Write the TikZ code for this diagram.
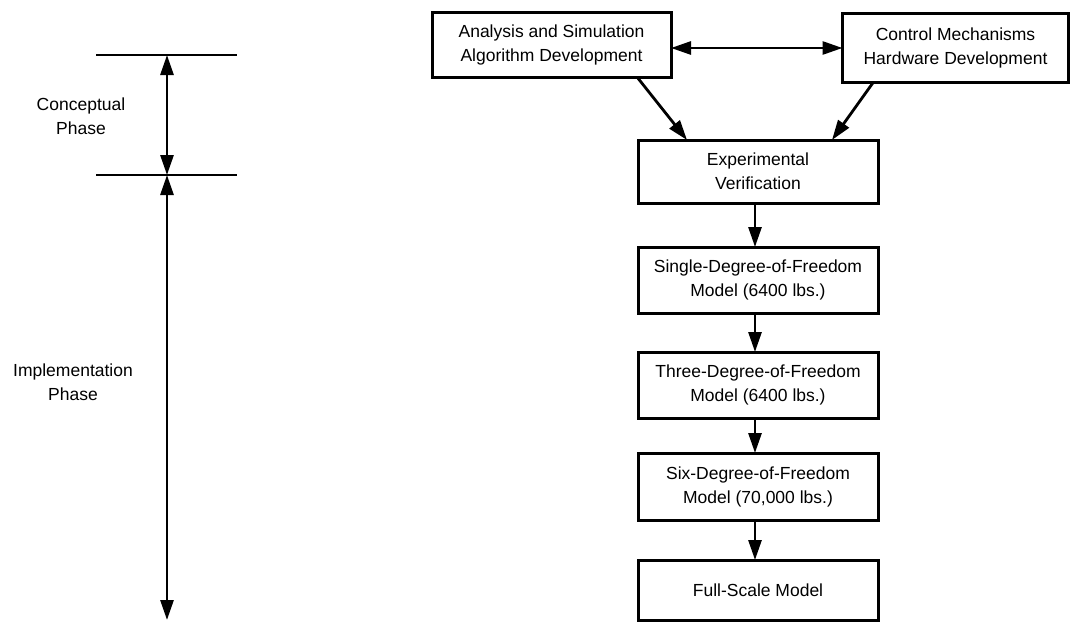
\documentclass[tikz,border=0pt]{standalone}
\usepackage{fontspec}
\setmainfont{Liberation Sans}
\usetikzlibrary{arrows.meta}
\tikzset{
  box/.style={draw, line width=3pt, inner sep=0pt, outer sep=0pt, align=center,
    font=\fontsize{17.5}{24}\selectfont},
  lbl/.style={align=center, font=\fontsize{17.5}{24}\selectfont},
  arr/.style={line width=2.8pt, -{Triangle[length=20pt,width=13pt]}},
  darr/.style={line width=2.8pt, {Triangle[length=20pt,width=13pt]}-{Triangle[length=20pt,width=13pt]}},
  rule/.style={line width=2.8pt}
}
\begin{document}
\begin{tikzpicture}[x=1pt,y=-1pt]
\useasboundingbox (0,0) rectangle (1071,624);
% top boxes
\node[box, minimum width=239pt, minimum height=65pt] (a1) at (551.5,44.5) {Analysis and Simulation\\Algorithm Development};
\node[box, minimum width=226pt, minimum height=69pt] (a2) at (955.5,47.5) {Control Mechanisms\\Hardware Development};
% chain
\node[box, minimum width=240pt, minimum height=63pt] (ev) at (758,171.5) {Experimental\\Verification};
\node[box, minimum width=240pt, minimum height=66pt] (s1) at (758,280) {Single-Degree-of-Freedom\\Model (6400 lbs.)};
\node[box, minimum width=240pt, minimum height=66pt] (s3) at (758,385) {Three-Degree-of-Freedom\\Model (6400 lbs.)};
\node[box, minimum width=240pt, minimum height=67pt] (s6) at (758,486.5) {Six-Degree-of-Freedom\\Model (70,000 lbs.)};
\node[box, minimum width=240pt, minimum height=60pt] (fs) at (758,590) {Full-Scale Model};
% connectors
\draw[darr] (a1.east |- 0,48) -- (a2.west |- 0,48);
\draw[arr] ([xshift=-34pt]a1.south east) -- ([xshift=49pt]ev.north west);
\draw[arr] ([xshift=31pt]a2.south west) -- ([xshift=-46pt]ev.north east);
\draw[arr] ([xshift=-3pt]ev.south) -- ([xshift=-3pt]s1.north);
\draw[arr] ([xshift=-3pt]s1.south) -- ([xshift=-3pt]s3.north);
\draw[arr] ([xshift=-3pt]s3.south) -- ([xshift=-3pt]s6.north);
\draw[arr] ([xshift=-3pt]s6.south) -- ([xshift=-3pt]fs.north);
% left phase scale
\coordinate (t1) at (96,55);
\coordinate (t2) at (237,55);
\coordinate (m1) at (96,175);
\coordinate (m2) at (237,175);
\coordinate (c1) at (167,55);
\coordinate (c2) at (167,175);
\coordinate (c3) at (167,620);
\draw[rule] (t1) -- (t2);
\draw[rule] (m1) -- (m2);
\draw[darr] (c1) -- (c2);
\draw[darr] (c2) -- (c3);
\node[lbl] (cp) at (81,116) {Conceptual\\Phase};
\node[lbl] (ip) at (73,382) {Implementation\\Phase};
\end{tikzpicture}
\end{document}
